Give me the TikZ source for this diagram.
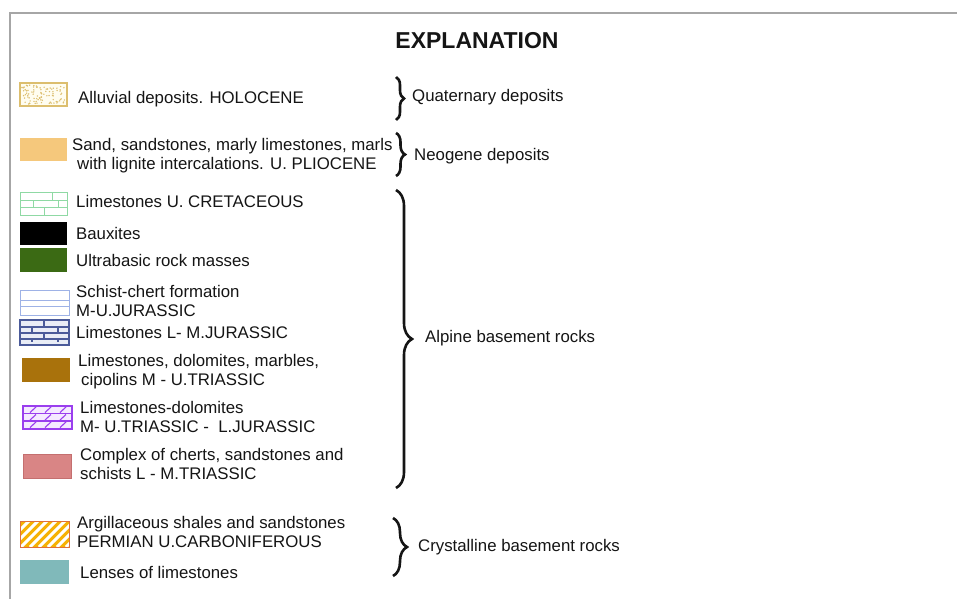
\documentclass[tikz,border=0pt]{standalone}
\usepackage{fontspec}
\setmainfont{Liberation Sans}
\usetikzlibrary{decorations.pathreplacing}
\definecolor{framec}{HTML}{A6A6A6}
\definecolor{txt}{HTML}{151515}
\definecolor{alluvb}{HTML}{DCBE6E}
\definecolor{alluvf}{HTML}{FFFDF0}
\definecolor{sand}{HTML}{F5C87C}
\definecolor{cretg}{HTML}{8FD9A4}
\definecolor{ultra}{HTML}{3B6A14}
\definecolor{schist}{HTML}{9EB2E6}
\definecolor{jurb}{HTML}{4B5B9A}
\definecolor{jurf}{HTML}{E9EDF6}
\definecolor{brown}{HTML}{A9720C}
\definecolor{purp}{HTML}{9A3EEE}
\definecolor{purpf}{HTML}{F5EAFF}
\definecolor{pink}{HTML}{D98585}
\definecolor{pinkb}{HTML}{C46F6F}
\definecolor{hatchy}{HTML}{F6B103}
\definecolor{hatchb}{HTML}{E0703A}
\definecolor{teal}{HTML}{80B9BA}
\begin{document}
\begin{tikzpicture}[x=1pt,y=-1pt,
  lbl/.style={inner sep=0pt,font=\fontsize{16.8}{19}\selectfont,text=txt},
  one/.style={lbl,anchor=base west},
  two/.style={lbl,anchor=north west,align=left},
  brc/.style={decorate,decoration={brace,amplitude=#1},line width=2.6pt,txt},
]
\useasboundingbox[fill=white] (0,0) rectangle (957,599);
% frame
\draw[framec,line width=2.5pt] (957,13) -- (10,13) -- (10,599);
% title
\node[inner sep=0pt,anchor=base,font=\fontsize{23}{26}\selectfont\bfseries,text=txt] (title) at (477,48.5) {EXPLANATION};

% 1 alluvial
\fill[alluvf] (20,83) rectangle (67,106);
\pgfmathsetseed{7}
\foreach \i in {1,...,90} {\fill[alluvb] ({22+43*rnd},{85+19*rnd}) circle (0.8);}
\draw[alluvb,line width=1.2pt] (20,83) rectangle (67,106);
\node[one] (alluv) at (78,103) {Alluvial deposits. HOLOCENE};
% 2 sand
\fill[sand] (20,138) rectangle (67,161);
\node[two] (sandt) at (72,138) {Sand, sandstones, marly limestones, marls\\\hspace*{5pt}with lignite intercalations. U. PLIOCENE};
% 3 cretaceous limestone
\begin{scope}[cretg,line width=1pt]
\draw (20,192) rectangle (67,215);
\draw (20,200) -- (67,200) (20,207.5) -- (67,207.5);
\draw (52,192) -- (52,200) (33,200) -- (33,207.5) (58,200) -- (58,207.5) (44,207.5) -- (44,215);
\end{scope}
\node[one] (cret) at (76,207) {Limestones U. CRETACEOUS};
% 4 bauxites
\fill[black] (20,222) rectangle (67,245);
\node[one] (baux) at (76,239) {Bauxites};
% 5 ultrabasic
\fill[ultra] (20,248) rectangle (67,272);
\node[one] (ultrat) at (76,266) {Ultrabasic rock masses};
% 6 schist-chert
\begin{scope}[schist,line width=1pt]
\draw (20,290) rectangle (69,315);
\draw (20,300) -- (69,300) (20,306) -- (69,306);
\end{scope}
\node[two] (schistt) at (76,285) {Schist-chert formation\\M-U.JURASSIC};
% 7 L-M jurassic limestone
\fill[jurf] (20,320) rectangle (69,345);
\begin{scope}[jurb,line width=1.1pt]
\draw (20,320) rectangle (69,345);
\draw (20,327) -- (69,327) (20,333) -- (69,333) (20,339) -- (69,339);
\draw (44,320) -- (44,327) (32,327) -- (32,333) (58,327) -- (58,333) (44,333) -- (44,339) (32,339) -- (32,342) (58,339) -- (58,342);
\end{scope}
\node[one] (jurt) at (76,338) {Limestones L- M.JURASSIC};
% 8 brown
\fill[brown] (22,358) rectangle (70,382);
\node[two] (brownt) at (78,354) {Limestones, dolomites, marbles,\\\hspace*{3pt}cipolins M - U.TRIASSIC};
% 9 purple dolomite
\fill[purpf] (23,406) rectangle (72,429);
\begin{scope}[purp,line width=1.1pt]
\draw (23,406) rectangle (72,429);
\draw (23,413.5) -- (72,413.5) (23,421) -- (72,421);
\foreach \r in {406,413.5,421} {
  \foreach \c in {33,48,63} {\draw (\c-3,\r+6.5) -- (\c+3,\r+1);}
}
\end{scope}
\node[two] (purpt) at (80,401) {Limestones-dolomites\\M- U.TRIASSIC -\ \ L.JURASSIC};
% 10 pink
\fill[pink] (23,454) rectangle (71,478);
\draw[pinkb,line width=0.6pt] (23,454) rectangle (71,478);
\node[two] (pinkt) at (80,448) {Complex of cherts, sandstones and\\schists L - M.TRIASSIC};
% 11 hatched
\begin{scope}
\clip (20,521) rectangle (69,547);
\fill[hatchy] (20,521) rectangle (69,547);
\foreach \k in {0,...,8} {\draw[white,line width=3pt] ({-6+9*\k},547) -- ({-6+9*\k+26},521);}
\end{scope}
\draw[hatchb,line width=1pt] (20,521) rectangle (69,547);
\node[two] (argt) at (77,516) {Argillaceous shales and sandstones\\PERMIAN U.CARBONIFEROUS};
% 12 teal
\fill[teal] (20,560) rectangle (69,584);
\node[one] (lenst) at (80,578) {Lenses of limestones};

% braces and group labels
\coordinate (q1) at (396,77); \coordinate (q2) at (396,120);
\draw[brc=8] (q1) -- (q2);
\node[one] (quat) at (412,102) {Quaternary deposits};
\coordinate (n1) at (396,133); \coordinate (n2) at (396,176);
\draw[brc=9] (n1) -- (n2);
\node[one] (neo) at (414,160) {Neogene deposits};
\coordinate (a1) at (396,190); \coordinate (a2) at (396,488);
\draw[brc=16] (a1) -- (a2);
\node[one] (alp) at (425,342) {Alpine basement rocks};
\coordinate (c1) at (393,518); \coordinate (c2) at (393,576);
\draw[brc=14] (c1) -- (c2);
\node[one] (cryst) at (418,551) {Crystalline basement rocks};
\end{tikzpicture}
\end{document}
